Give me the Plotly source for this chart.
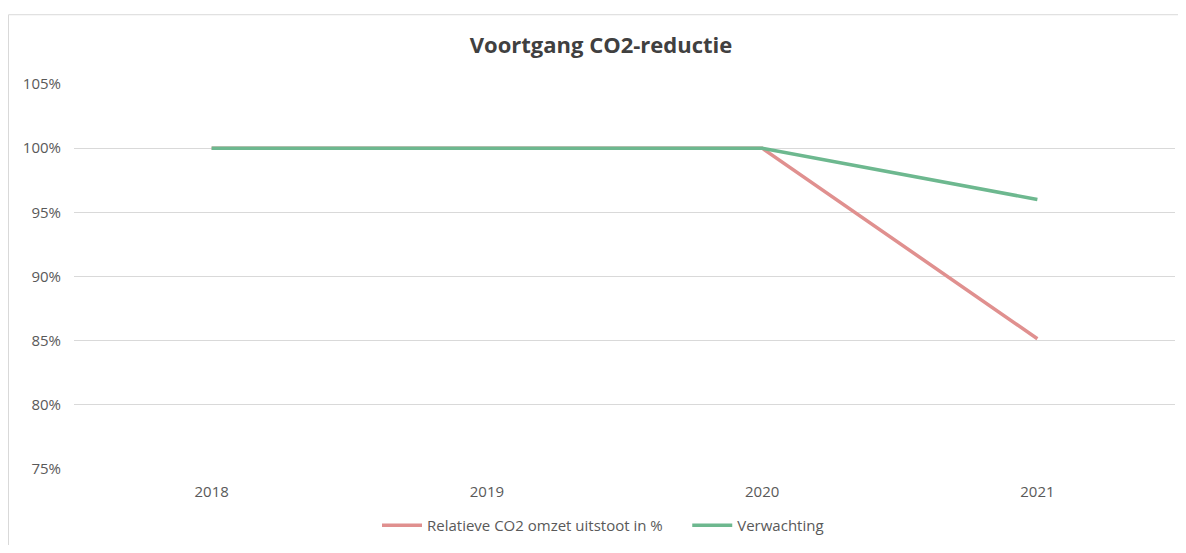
import plotly.graph_objects as go

years = ["2018", "2019", "2020", "2021"]
relatief = [100, 100, 100, 85.15]
verwachting = [100, 100, 100, 96.0]
y_ticks = [75, 80, 85, 90, 95, 100, 105]
y_labels = ["75%", "80%", "85%", "90%", "95%", "100%", "105%"]

# page body has an 8px margin on every side; keep figure inside the viewport
OFF = 8
W, H = 1186 - 2 * OFF, 553 - 2 * OFF
L = 74 - OFF
R = W - (1175 - OFF)
T = 84 - OFF
B = H - (473 - OFF)
pw, ph = W - L - R, H - T - B

def px_x(p):
    return (p - OFF - L) / pw

def px_y(p):
    return (H - B - (p - OFF)) / ph

fig = go.Figure()
fig.add_trace(go.Scatter(x=years, y=relatief, mode="lines",
                         name="Relatieve CO2 omzet uitstoot in %\u00a0\u00a0\u00a0\u00a0\u00a0",
                         line=dict(color="#E0908F", width=3.5)))
fig.add_trace(go.Scatter(x=years, y=verwachting, mode="lines", name="Verwachting",
                         line=dict(color="#6DB88F", width=3.5)))

fig.update_layout(
    width=W, height=H,
    margin=dict(l=L, r=R, t=T, b=B),
    paper_bgcolor="white", plot_bgcolor="white",
    font=dict(family="Open Sans", color="#595959", size=14),
    title=dict(text="<b>Voortgang CO2-reductie</b>", xref="container", x=(601 - OFF) / W, xanchor="center",
               y=1 - (45 - OFF) / H, yanchor="middle",
               font=dict(size=22, color="#404040", family="Open Sans")),
    xaxis=dict(type="category", range=[-0.5, 3.5], showgrid=False, showline=False, zeroline=False,
               ticks="", ticklabelstandoff=12, tickfont=dict(size=15, color="#595959")),
    yaxis=dict(range=[75, 105], tickvals=y_ticks, ticktext=y_labels, showgrid=True, gridcolor="#D9D9D9",
               gridwidth=1, zeroline=False, showline=False, ticks="", ticklabelstandoff=12,
               tickfont=dict(size=15, color="#595959")),
    legend=dict(orientation="h", x=px_x(603), xanchor="center", y=px_y(530), yanchor="middle",
                font=dict(size=15, color="#595959"), itemwidth=40, tracegroupgap=0),
    showlegend=True,
)

# chart border (top and left edges visible)
fig.add_shape(type="line", xref="paper", yref="paper", x0=px_x(8.5), x1=px_x(1186), y0=px_y(14), y1=px_y(14),
              line=dict(color="#D9D9D9", width=1))
fig.add_shape(type="line", xref="paper", yref="paper", x0=px_x(8.5), x1=px_x(8.5), y0=px_y(14), y1=px_y(553),
              line=dict(color="#D9D9D9", width=1))

fig.write_html("out.html")
